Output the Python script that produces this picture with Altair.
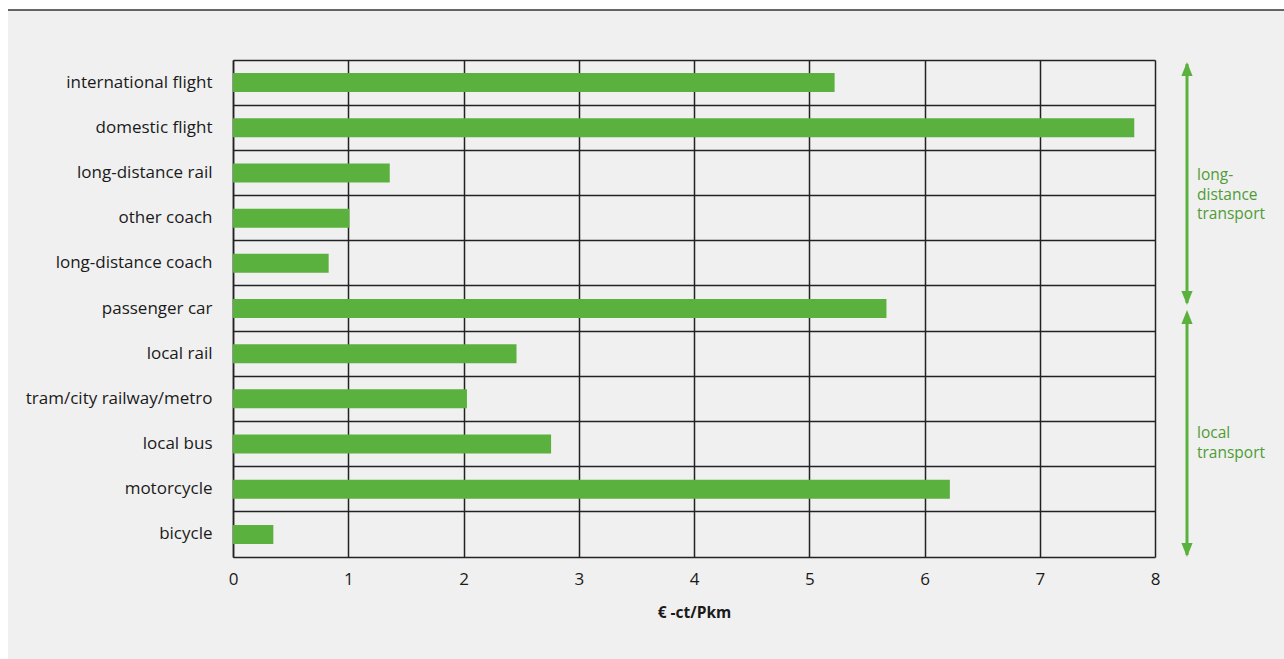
import altair as alt
import pandas as pd

categories = ["international flight", "domestic flight", "long-distance rail", "other coach",
              "long-distance coach", "passenger car", "local rail", "tram/city railway/metro",
              "local bus", "motorcycle", "bicycle"]
values = [5.22, 7.82, 1.36, 1.01, 0.83, 5.67, 2.46, 2.03, 2.76, 6.22, 0.35]
x_ticks = [0, 1, 2, 3, 4, 5, 6, 7, 8]
group_labels = [["long-", "distance", "transport"], ["local", "transport"]]

FONT = "Open Sans"
GREEN = "#5bb13d"
TEXT_GREEN = "#4f9c36"
W, H = 922, 497

df = pd.DataFrame({"mode": categories, "value": values})

bars = alt.Chart(df).mark_bar(color=GREEN, size=19).encode(
    x=alt.X("value:Q", scale=alt.Scale(domain=[0, 8], nice=False, zero=True),
            axis=alt.Axis(values=x_ticks, title="€ -ct/Pkm", grid=True, gridColor="#222",
                          gridWidth=1.5, domainColor="#222", domainWidth=1.5, ticks=False,
                          labelFlush=False,
                          labelPadding=14, labelFontSize=17, labelColor="#1a1a1a", labelFont=FONT,
                          titleFont=FONT, titleFontSize=15.5, titleFontWeight="bold",
                          titleColor="#1a1a1a", titlePadding=18)),
    y=alt.Y("mode:N", sort=categories, scale=alt.Scale(paddingInner=0, paddingOuter=0),
            axis=alt.Axis(title=None, grid=True, bandPosition=0, gridColor="#222",
                          gridWidth=1.5, domainColor="#222", domainWidth=1.5, ticks=False,
                          labelLimit=400,
                          labelPadding=21, labelFontSize=17, labelColor="#1a1a1a", labelFont=FONT)),
)

# white margins outside the shaded panel and top rule
base = alt.Chart(pd.DataFrame({"a": [0]}))
white_left = base.mark_rect(color="white").encode(
    x=alt.value(-233), x2=alt.value(-225), y=alt.value(-60), y2=alt.value(H + 102))
white_top = base.mark_rect(color="white").encode(
    x=alt.value(-233), x2=alt.value(W + 129), y=alt.value(-60), y2=alt.value(-50))
top_rule = base.mark_rule(color="#333", strokeWidth=1.5).encode(
    x=alt.value(-225), x2=alt.value(W + 129), y=alt.value(-50))

AX = 954
arrow_lines = alt.Chart(pd.DataFrame({"y1": [4, 259], "y2": [243, 495]})).mark_rule(
    color=GREEN, strokeWidth=3).encode(
    x=alt.value(AX), y=alt.Y("y1:Q", scale=None), y2="y2:Q")

up_path = "M0,-1L0.8,1L-0.8,1Z"
down_path = "M0,1L0.8,-1L-0.8,-1Z"
heads_up = alt.Chart(pd.DataFrame({"y": [9, 257]})).mark_point(
    shape=up_path, filled=True, color=GREEN, opacity=1, size=196).encode(
    x=alt.value(AX), y=alt.Y("y:Q", scale=None))
heads_down = alt.Chart(pd.DataFrame({"y": [238, 490]})).mark_point(
    shape=down_path, filled=True, color=GREEN, opacity=1, size=196).encode(
    x=alt.value(AX), y=alt.Y("y:Q", scale=None))

label1 = base.mark_text(align="left", baseline="middle", font=FONT, fontSize=15.5,
                        color=TEXT_GREEN, lineHeight=19.5).encode(
    x=alt.value(964), y=alt.value(115), text=alt.value(group_labels[0]))
label2 = base.mark_text(align="left", baseline="middle", font=FONT, fontSize=15.5,
                        color=TEXT_GREEN, lineHeight=19.5).encode(
    x=alt.value(964), y=alt.value(373), text=alt.value(group_labels[1]))

chart = alt.layer(white_left, white_top, top_rule, bars, arrow_lines, heads_up, heads_down,
                  label1, label2).properties(
    width=W, height=H,
    autosize=alt.AutoSizeParams(type="none"),
    padding={"left": 233, "top": 60, "right": 129, "bottom": 102},
    background="#f0f0f0",
).configure_view(stroke=None)

chart.save("out.html", embed_options={"renderer": "svg", "actions": False})
